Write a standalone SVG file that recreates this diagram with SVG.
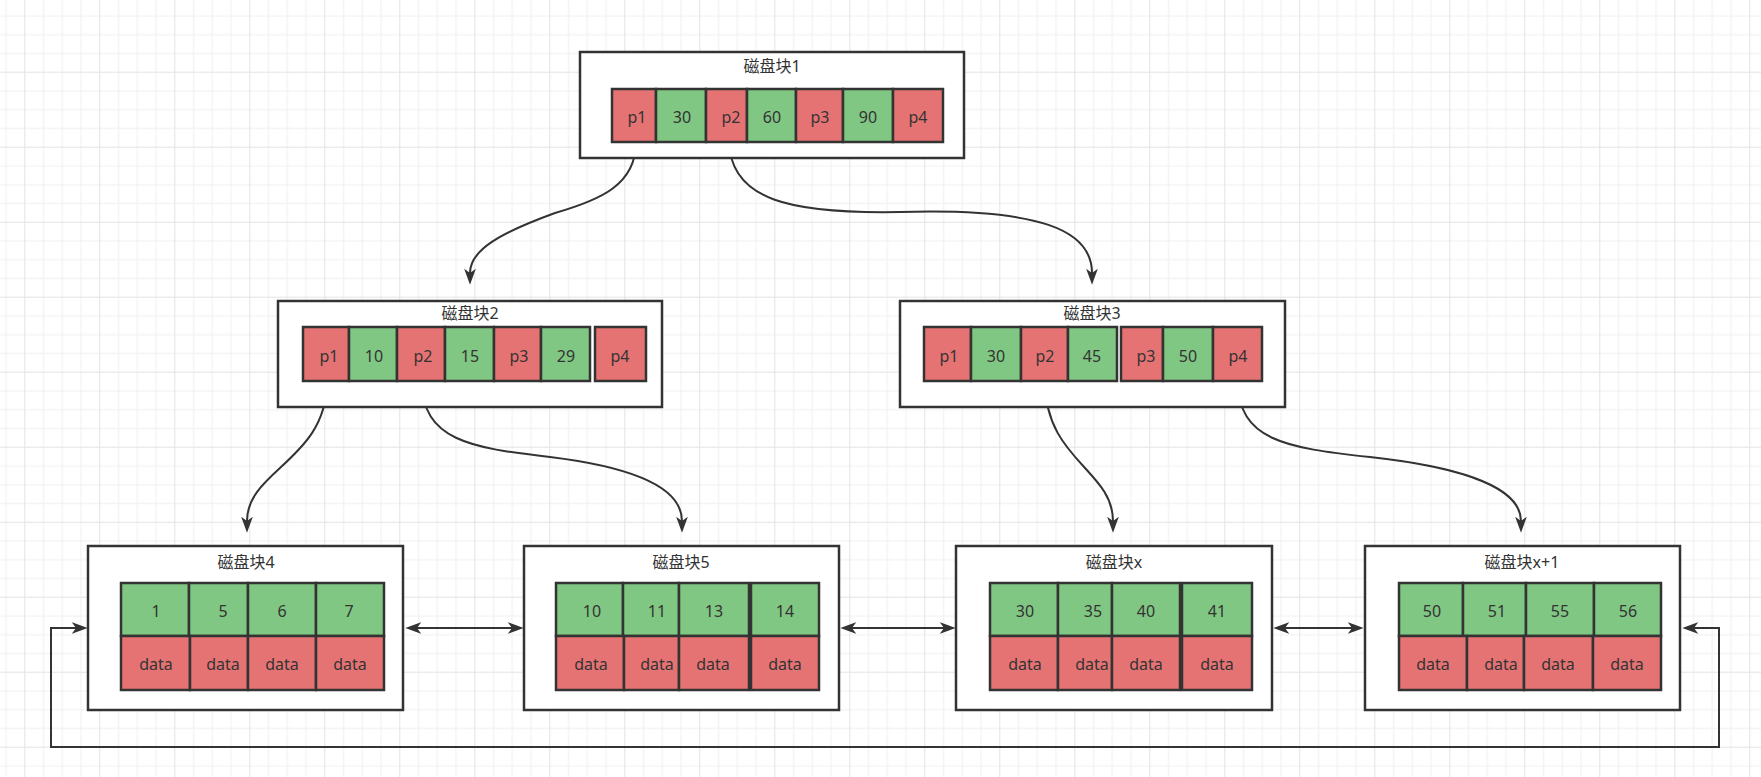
<svg xmlns="http://www.w3.org/2000/svg" width="1761" height="777" viewBox="0 0 1761 777">
<style>
.box{fill:#fff;stroke:#333;stroke-width:2.5}
.r{fill:#E67373;stroke:#333;stroke-width:2.5}
.g{fill:#80C783;stroke:#333;stroke-width:2.5}
.t{font-family:"Noto Sans","Noto Sans CJK SC",sans-serif;font-size:16px;fill:#333;text-anchor:middle;dominant-baseline:central}
.ti{font-size:16px}
.edge{fill:none;stroke:#333;stroke-width:2}
</style>
<defs>
<pattern id="grid" patternUnits="userSpaceOnUse" x="24.3" y="-3.3" width="75" height="75">
<rect x="0" y="0" width="75" height="75" fill="#fff"/>
<g fill="#f0f0f0">
<rect x="18.75" y="0" width="1" height="75"/><rect x="37.5" y="0" width="1" height="75"/><rect x="56.25" y="0" width="1" height="75"/>
<rect x="0" y="18.75" width="75" height="1"/><rect x="0" y="37.5" width="75" height="1"/><rect x="0" y="56.25" width="75" height="1"/>
</g>
<g fill="#e3e3e3"><rect x="0" y="0" width="1" height="75"/><rect x="0" y="0" width="75" height="1"/></g>
</pattern>
<marker id="arr" markerUnits="userSpaceOnUse" viewBox="0 0 16 12" markerWidth="17" markerHeight="12.75" refX="4" refY="6" orient="auto-start-reverse">
<path d="M0,0.5 L15,6 L0,11.5 L4,6 z" fill="#333"/>
</marker>
</defs>
<rect x="0" y="0" width="1761" height="777" fill="url(#grid)"/>

<g id="connectors">
<path class="edge" marker-end="url(#arr)" d="M636,142 C636,185 600,200 555,213 C500,233 470,250 470,273"/>
<path class="edge" marker-end="url(#arr)" d="M729,142 C731,200 790,214 900,212 C1040,208 1092,230 1092,273"/>
<path class="edge" marker-end="url(#arr)" d="M327,381 C327,460 247,470 247,521"/>
<path class="edge" marker-end="url(#arr)" d="M422,381 C422,440 470,448 550,457 C640,468 682,490 682,521"/>
<path class="edge" marker-end="url(#arr)" d="M1045,381 C1045,460 1113,470 1113,521"/>
<path class="edge" marker-end="url(#arr)" d="M1238,381 C1238,440 1285,448 1370,457 C1470,468 1521,490 1521,521"/>
<path class="edge" marker-start="url(#arr)" marker-end="url(#arr)" d="M417,628 L512,628"/>
<path class="edge" marker-start="url(#arr)" marker-end="url(#arr)" d="M852,628 L944,628"/>
<path class="edge" marker-start="url(#arr)" marker-end="url(#arr)" d="M1285,628 L1352,628"/>
<path class="edge" marker-start="url(#arr)" marker-end="url(#arr)" d="M1694,628 L1719,628 L1719,747 L51,747 L51,628 L76,628"/>
</g>

<g id="block1">
<rect class="box" x="580" y="52" width="384" height="106"/>
<text class="t ti" x="772" y="66">磁盘块1</text>
<rect class="r" x="612" y="89" width="44" height="53"/>
<rect class="g" x="656" y="89" width="50" height="53"/>
<rect class="r" x="706" y="89" width="41" height="53"/>
<rect class="g" x="747" y="89" width="49" height="53"/>
<rect class="r" x="796" y="89" width="47" height="53"/>
<rect class="g" x="843" y="89" width="50" height="53"/>
<rect class="r" x="893" y="89" width="50" height="53"/>
<text class="t" x="637" y="117">p1</text>
<text class="t" x="682" y="117">30</text>
<text class="t" x="731" y="117">p2</text>
<text class="t" x="772" y="117">60</text>
<text class="t" x="820" y="117">p3</text>
<text class="t" x="868" y="117">90</text>
<text class="t" x="918" y="117">p4</text>
</g>

<g id="block2">
<rect class="box" x="278" y="301" width="384" height="106"/>
<text class="t ti" x="470" y="313">磁盘块2</text>
<rect class="r" x="303" y="327" width="46" height="54"/>
<rect class="g" x="349" y="327" width="48" height="54"/>
<rect class="r" x="397" y="327" width="48" height="54"/>
<rect class="g" x="445" y="327" width="49" height="54"/>
<rect class="r" x="494" y="327" width="47" height="54"/>
<rect class="g" x="541" y="327" width="49" height="54"/>
<rect class="r" x="595" y="327" width="51" height="54"/>
<text class="t" x="329" y="356">p1</text>
<text class="t" x="374" y="356">10</text>
<text class="t" x="423" y="356">p2</text>
<text class="t" x="470" y="356">15</text>
<text class="t" x="519" y="356">p3</text>
<text class="t" x="566" y="356">29</text>
<text class="t" x="620" y="356">p4</text>
</g>

<g id="block3">
<rect class="box" x="900" y="301" width="385" height="106"/>
<text class="t ti" x="1092" y="313">磁盘块3</text>
<rect class="r" x="924" y="327" width="47" height="54"/>
<rect class="g" x="971" y="327" width="50" height="54"/>
<rect class="r" x="1021" y="327" width="47" height="54"/>
<rect class="g" x="1068" y="327" width="49" height="54"/>
<rect class="r" x="1121" y="327" width="42" height="54"/>
<rect class="g" x="1163" y="327" width="50" height="54"/>
<rect class="r" x="1213" y="327" width="49" height="54"/>
<text class="t" x="949" y="356">p1</text>
<text class="t" x="996" y="356">30</text>
<text class="t" x="1045" y="356">p2</text>
<text class="t" x="1092" y="356">45</text>
<text class="t" x="1146" y="356">p3</text>
<text class="t" x="1188" y="356">50</text>
<text class="t" x="1238" y="356">p4</text>
</g>

<g id="block4">
<rect class="box" x="88" y="546" width="315" height="164"/>
<text class="t ti" x="246" y="562">磁盘块4</text>
<rect class="g" x="121" y="583" width="68" height="53"/>
<rect class="g" x="189" y="583" width="59" height="53"/>
<rect class="g" x="248" y="583" width="68" height="53"/>
<rect class="g" x="316" y="583" width="68" height="53"/>
<rect class="r" x="121" y="636" width="69" height="54"/>
<rect class="r" x="190" y="636" width="58" height="54"/>
<rect class="r" x="248" y="636" width="68" height="54"/>
<rect class="r" x="316" y="636" width="68" height="54"/>
<text class="t" x="156" y="611">1</text>
<text class="t" x="223" y="611">5</text>
<text class="t" x="282" y="611">6</text>
<text class="t" x="349" y="611">7</text>
<text class="t" x="156" y="664">data</text>
<text class="t" x="223" y="664">data</text>
<text class="t" x="282" y="664">data</text>
<text class="t" x="350" y="664">data</text>
</g>

<g id="block5">
<rect class="box" x="524" y="546" width="315" height="164"/>
<text class="t ti" x="681" y="562">磁盘块5</text>
<rect class="g" x="556" y="583" width="67" height="53"/>
<rect class="g" x="623" y="583" width="56" height="53"/>
<rect class="g" x="679" y="583" width="70" height="53"/>
<rect class="g" x="751" y="583" width="68" height="53"/>
<rect class="r" x="556" y="636" width="68" height="54"/>
<rect class="r" x="624" y="636" width="55" height="54"/>
<rect class="r" x="679" y="636" width="70" height="54"/>
<rect class="r" x="751" y="636" width="68" height="54"/>
<text class="t" x="592" y="611">10</text>
<text class="t" x="657" y="611">11</text>
<text class="t" x="714" y="611">13</text>
<text class="t" x="785" y="611">14</text>
<text class="t" x="591" y="664">data</text>
<text class="t" x="657" y="664">data</text>
<text class="t" x="713" y="664">data</text>
<text class="t" x="785" y="664">data</text>
</g>

<g id="blockx">
<rect class="box" x="956" y="546" width="316" height="164"/>
<text class="t ti" x="1114" y="562">磁盘块x</text>
<rect class="g" x="990" y="583" width="68" height="53"/>
<rect class="g" x="1058" y="583" width="54" height="53"/>
<rect class="g" x="1112" y="583" width="68" height="53"/>
<rect class="g" x="1182" y="583" width="70" height="53"/>
<rect class="r" x="990" y="636" width="68" height="54"/>
<rect class="r" x="1058" y="636" width="54" height="54"/>
<rect class="r" x="1112" y="636" width="68" height="54"/>
<rect class="r" x="1182" y="636" width="70" height="54"/>
<text class="t" x="1025" y="611">30</text>
<text class="t" x="1093" y="611">35</text>
<text class="t" x="1146" y="611">40</text>
<text class="t" x="1217" y="611">41</text>
<text class="t" x="1025" y="664">data</text>
<text class="t" x="1092" y="664">data</text>
<text class="t" x="1146" y="664">data</text>
<text class="t" x="1217" y="664">data</text>
</g>

<g id="blockx1">
<rect class="box" x="1365" y="546" width="315" height="164"/>
<text class="t ti" x="1522" y="562">磁盘块x+1</text>
<rect class="g" x="1399" y="583" width="64" height="53"/>
<rect class="g" x="1463" y="583" width="63" height="53"/>
<rect class="g" x="1526" y="583" width="68" height="53"/>
<rect class="g" x="1594" y="583" width="67" height="53"/>
<rect class="r" x="1399" y="636" width="68" height="54"/>
<rect class="r" x="1467" y="636" width="57" height="54"/>
<rect class="r" x="1524" y="636" width="69" height="54"/>
<rect class="r" x="1593" y="636" width="68" height="54"/>
<text class="t" x="1432" y="611">50</text>
<text class="t" x="1497" y="611">51</text>
<text class="t" x="1560" y="611">55</text>
<text class="t" x="1628" y="611">56</text>
<text class="t" x="1433" y="664">data</text>
<text class="t" x="1501" y="664">data</text>
<text class="t" x="1558" y="664">data</text>
<text class="t" x="1627" y="664">data</text>
</g>
</svg>
